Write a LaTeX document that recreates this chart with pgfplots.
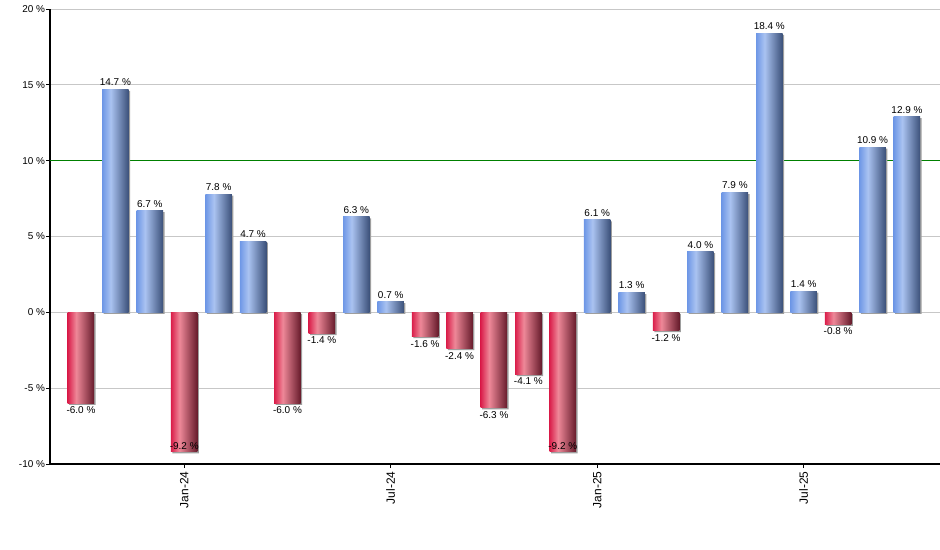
\documentclass[border=0pt]{standalone}
\usepackage{fontspec}
\setmainfont{Liberation Sans}
\usepackage{pgfplots}
\pgfplotsset{compat=1.18}

\definecolor{bluel}{HTML}{6E97E6}
\definecolor{bluem}{HTML}{AAC3F1}
\definecolor{bluer}{HTML}{3B5079}
\definecolor{redl}{HTML}{DA1F4B}
\definecolor{redm}{HTML}{EE8898}
\definecolor{redr}{HTML}{661B2B}
\definecolor{tenline}{HTML}{008000}

% shading is 100bp wide, the bar spans 25bp..75bp
\pgfdeclarehorizontalshading{blueshade}{100bp}{color(0bp)=(bluel); color(25bp)=(bluel);
    color(41bp)=(bluem); color(75bp)=(bluer); color(100bp)=(bluer)}
\pgfdeclarehorizontalshading{redshade}{100bp}{color(0bp)=(redl); color(25bp)=(redl);
    color(41bp)=(redm); color(75bp)=(redr); color(100bp)=(redr)}

\begin{document}
\begin{tikzpicture}
\useasboundingbox (-50bp,-86bp) rectangle (890bp,464bp);
\begin{axis}[
    at={(0,0)}, anchor=south west,
    scale only axis, width=890bp, height=455bp,
    xmin=-0.9, xmax=24.96, ymin=-10, ymax=20,
    axis x line*=bottom, axis y line*=left,
    axis line style={-, line width=1.2bp},
    ytick={-10,-5,...,20},
    ymajorgrids, grid style={draw=black!22, line width=0.8bp},
    yticklabel={\pgfmathprintnumber{\tick} \%},
    y tick label style={xshift=2.5bp},
    xtick={3,9,15,21},
    xticklabels={Jan-24,Jul-24,Jan-25,Jul-25},
    x tick label style={rotate=90, anchor=east, font=\fontsize{12}{14}\selectfont},
    tick align=outside, major tick length=4bp,
    tick style={black, line width=0.8bp},
    font=\fontsize{10}{12}\selectfont,
    /pgf/number format/assume math mode=true,
    bar width=0.77, point meta=y,
    bars/.style={ybar, bar shift=0pt, draw=none,
        nodes near coords={\pgfmathprintnumber[fixed,fixed zerofill,precision=1]{\pgfplotspointmeta} \%},
        every node near coord/.append style={font=\fontsize{10}{12}\selectfont, text=black}},
    pos/.style={bars, shade, shading=blueshade,
        every node near coord/.append style={anchor=south}},
    neg/.style={bars, shade, shading=redshade,
        every node near coord/.append style={anchor=north}},
    negin/.style={bars, shade, shading=redshade,
        every node near coord/.append style={anchor=south, yshift=-1bp}},
]
\addplot[sharp plot, tenline, line width=0.9bp] coordinates {(-0.9,10) (24.96,10)};

% grey shadow behind every bar
\addplot[ybar, bar shift=0pt, draw=none, fill=black!38, xshift=1.5bp, yshift=-1.5bp] coordinates {
    (0,-6.0) (1,14.7) (2,6.7) (3,-9.2) (4,7.8) (5,4.7) (6,-6.0) (7,-1.4)
    (8,6.3) (9,0.7) (10,-1.6) (11,-2.4) (12,-6.3) (13,-4.1) (14,-9.2)
    (15,6.1) (16,1.3) (17,-1.2) (18,4.0) (19,7.9) (20,18.4) (21,1.4)
    (22,-0.8) (23,10.9) (24,12.9)
};

% monthly returns, one bar per plot so each gets its own shading
\addplot[neg]   coordinates {(0,-6.0)};
\addplot[pos]   coordinates {(1,14.7)};
\addplot[pos]   coordinates {(2,6.7)};
\addplot[negin] coordinates {(3,-9.2)};
\addplot[pos]   coordinates {(4,7.8)};
\addplot[pos]   coordinates {(5,4.7)};
\addplot[neg]   coordinates {(6,-6.0)};
\addplot[neg]   coordinates {(7,-1.4)};
\addplot[pos]   coordinates {(8,6.3)};
\addplot[pos]   coordinates {(9,0.7)};
\addplot[neg]   coordinates {(10,-1.6)};
\addplot[neg]   coordinates {(11,-2.4)};
\addplot[neg]   coordinates {(12,-6.3)};
\addplot[neg]   coordinates {(13,-4.1)};
\addplot[negin] coordinates {(14,-9.2)};
\addplot[pos]   coordinates {(15,6.1)};
\addplot[pos]   coordinates {(16,1.3)};
\addplot[neg]   coordinates {(17,-1.2)};
\addplot[pos]   coordinates {(18,4.0)};
\addplot[pos]   coordinates {(19,7.9)};
\addplot[pos]   coordinates {(20,18.4)};
\addplot[pos]   coordinates {(21,1.4)};
\addplot[neg]   coordinates {(22,-0.8)};
\addplot[pos]   coordinates {(23,10.9)};
\addplot[pos]   coordinates {(24,12.9)};
\end{axis}
\end{tikzpicture}
\end{document}
